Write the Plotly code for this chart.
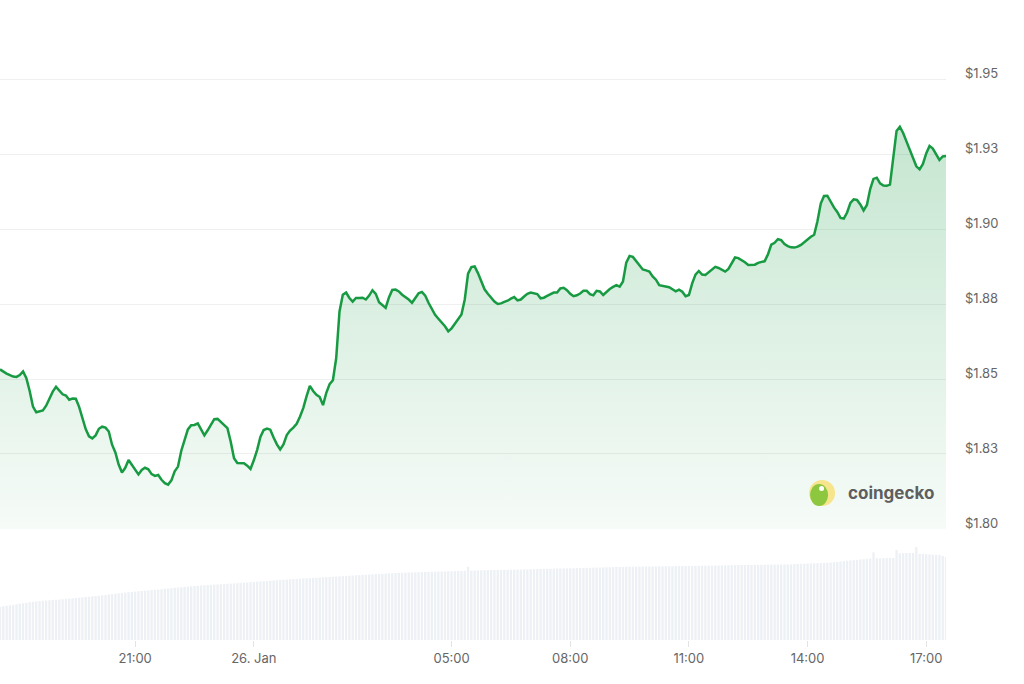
import pandas as pd
import plotly.graph_objects as go

# 5-minute samples, 25 Jan 17:35 -> 26 Jan 17:30
start_time = "2025-01-25 17:35"
step = "5min"

price = [
    1.8532, 1.8524, 1.8518, 1.8513, 1.8508, 1.8507, 1.8513, 1.8525, 1.8503, 1.8460, 1.8408, 1.8389,
    1.8391, 1.8395, 1.8411, 1.8437, 1.8458, 1.8474, 1.8463, 1.8449, 1.8445, 1.8431, 1.8435, 1.8434,
    1.8407, 1.8369, 1.8333, 1.8309, 1.8302, 1.8312, 1.8334, 1.8341, 1.8338, 1.8325, 1.8281, 1.8255,
    1.8215, 1.8188, 1.8204, 1.8230, 1.8214, 1.8197, 1.8182, 1.8197, 1.8204, 1.8199, 1.8183, 1.8177,
    1.8180, 1.8164, 1.8153, 1.8148, 1.8162, 1.8192, 1.8208, 1.8261, 1.8298, 1.8332, 1.8346, 1.8347,
    1.8352, 1.8331, 1.8312, 1.8329, 1.8348, 1.8366, 1.8367, 1.8357, 1.8346, 1.8336, 1.8291, 1.8236,
    1.8220, 1.8219, 1.8219, 1.8211, 1.8200, 1.8229, 1.8263, 1.8307, 1.8330, 1.8335, 1.8331, 1.8305,
    1.8282, 1.8265, 1.8282, 1.8313, 1.8328, 1.8338, 1.8351, 1.8374, 1.8403, 1.8442, 1.8477, 1.8460,
    1.8447, 1.8440, 1.8413, 1.8454, 1.8483, 1.8496, 1.8570, 1.8725, 1.8781, 1.8788, 1.8770, 1.8758,
    1.8770, 1.8770, 1.8771, 1.8765, 1.8778, 1.8796, 1.8784, 1.8756, 1.8746, 1.8737, 1.8772, 1.8797,
    1.8798, 1.8792, 1.8781, 1.8774, 1.8765, 1.8754, 1.8772, 1.8786, 1.8790, 1.8778, 1.8754, 1.8733,
    1.8714, 1.8701, 1.8689, 1.8676, 1.8659, 1.8669, 1.8684, 1.8700, 1.8715, 1.8765, 1.8851, 1.8873,
    1.8875, 1.8853, 1.8827, 1.8799, 1.8784, 1.8769, 1.8758, 1.8750, 1.8752, 1.8757, 1.8761, 1.8768,
    1.8773, 1.8762, 1.8765, 1.8775, 1.8784, 1.8788, 1.8785, 1.8783, 1.8769, 1.8771, 1.8777, 1.8782,
    1.8788, 1.8788, 1.8802, 1.8804, 1.8796, 1.8784, 1.8776, 1.8779, 1.8785, 1.8794, 1.8794, 1.8783,
    1.8779, 1.8794, 1.8792, 1.8780, 1.8791, 1.8800, 1.8807, 1.8813, 1.8808, 1.8825, 1.8888, 1.8910,
    1.8907, 1.8892, 1.8877, 1.8865, 1.8862, 1.8858, 1.8842, 1.8831, 1.8813, 1.8811, 1.8809, 1.8806,
    1.8799, 1.8792, 1.8798, 1.8791, 1.8776, 1.8780, 1.8819, 1.8848, 1.8860, 1.8848, 1.8847, 1.8856,
    1.8865, 1.8874, 1.8870, 1.8865, 1.8858, 1.8867, 1.8888, 1.8905, 1.8903, 1.8897, 1.8889, 1.8880,
    1.8880, 1.8881, 1.8887, 1.8890, 1.8893, 1.8916, 1.8948, 1.8954, 1.8966, 1.8963, 1.8950, 1.8943,
    1.8939, 1.8938, 1.8941, 1.8947, 1.8957, 1.8967, 1.8974, 1.8981, 1.9026, 1.9085, 1.9110, 1.9111,
    1.9089, 1.9072, 1.9057, 1.9037, 1.9035, 1.9055, 1.9087, 1.9099, 1.9097, 1.9082, 1.9062, 1.9080,
    1.9133, 1.9167, 1.9171, 1.9152, 1.9145, 1.9144, 1.9148, 1.9240, 1.9327, 1.9341, 1.9320, 1.9292,
    1.9265, 1.9239, 1.9209, 1.9199, 1.9217, 1.9252, 1.9277, 1.9268, 1.9251, 1.9230, 1.9242, 1.9243,
]

# volume, $M
volume = [
    333, 338, 343, 348, 352, 357, 362, 367, 372, 378, 382, 386,
    389, 392, 395, 397, 400, 403, 405, 408, 411, 414, 417, 420,
    423, 426, 430, 433, 437, 440, 443, 447, 451, 455, 459, 463,
    466, 470, 474, 478, 481, 484, 487, 490, 493, 496, 499, 502,
    505, 508, 512, 515, 518, 522, 525, 528, 531, 534, 537, 540,
    542, 545, 547, 549, 552, 554, 556, 558, 560, 562, 564, 566,
    568, 570, 573, 575, 578, 580, 583, 585, 588, 590, 592, 595,
    597, 600, 602, 604, 607, 609, 611, 613, 615, 617, 619, 621,
    623, 625, 627, 629, 631, 633, 635, 637, 639, 641, 643, 645,
    647, 649, 651, 653, 655, 657, 659, 661, 663, 665, 667, 668,
    670, 671, 672, 674, 675, 676, 677, 678, 679, 680, 681, 682,
    683, 684, 685, 686, 687, 688, 689, 690, 691, 692, 733, 694,
    695, 696, 697, 698, 699, 700, 700, 701, 701, 702, 702, 703,
    703, 704, 705, 706, 707, 708, 709, 710, 710, 711, 712, 712,
    713, 714, 715, 716, 716, 717, 718, 719, 720, 720, 721, 722,
    723, 724, 725, 726, 727, 728, 729, 730, 731, 731, 732, 733,
    733, 734, 734, 735, 735, 735, 736, 736, 737, 737, 737, 738,
    738, 739, 739, 740, 740, 741, 741, 742, 742, 743, 743, 744,
    744, 745, 745, 746, 747, 748, 748, 749, 750, 750, 751, 751,
    751, 752, 752, 752, 753, 753, 754, 754, 754, 755, 755, 755,
    756, 758, 760, 761, 763, 764, 766, 767, 768, 770, 771, 773,
    775, 778, 781, 785, 789, 793, 796, 799, 802, 805, 808, 812,
    815, 877, 817, 817, 818, 818, 819, 820, 900, 867, 868, 870,
    870, 872, 930, 862, 860, 858, 856, 854, 852, 850, 840, 830,
]

price_ticks = [1.800, 1.825, 1.850, 1.875, 1.900, 1.925, 1.950]
price_labels = ["$1.80", "$1.83", "$1.85", "$1.88", "$1.90", "$1.93", "$1.95"]

time_ticks = ["2025-01-25 21:00", "2025-01-26 00:00", "2025-01-26 05:00", "2025-01-26 08:00",
              "2025-01-26 11:00", "2025-01-26 14:00", "2025-01-26 17:00"]
time_labels = ["21:00", "26. Jan", "05:00", "08:00", "11:00", "14:00", "17:00"]

times = pd.date_range(start_time, periods=len(price), freq=step)

green = "#179a42"
label_font = dict(family="Inter, Roboto, sans-serif", size=13, color="#666666")

fig = go.Figure()

fig.add_trace(go.Bar(x=times, y=volume, yaxis="y2",
                     marker=dict(color="#edf0f4", line=dict(width=0)),
                     hoverinfo="skip"))

fig.add_trace(go.Scatter(x=times, y=price, mode="lines",
                         line=dict(color=green, width=2.5),
                         fill="tozeroy",
                         fillgradient=dict(type="vertical", start=1.80, stop=1.935,
                                           colorscale=[[0, "rgba(30,158,72,0.04)"],
                                                       [1, "rgba(30,158,72,0.26)"]])))

fig.update_layout(
    width=1024, height=684,
    margin=dict(l=0, r=78, t=10, b=44),
    paper_bgcolor="white", plot_bgcolor="white",
    showlegend=False, bargap=0.3,
    xaxis=dict(type="date", range=[times[0], times[-1]], anchor="y2",
               tickvals=time_ticks, ticktext=time_labels,
               ticks="outside", ticklen=6, tickcolor="#e3e3e3",
               showgrid=False, zeroline=False, showline=False,
               tickfont=label_font),
    yaxis=dict(domain=[0.1762, 1], range=[1.80, 1.973], side="right",
               tickvals=price_ticks, ticktext=price_labels,
               showgrid=True, gridcolor="#efefef", gridwidth=1,
               zeroline=False, ticks="", ticklabelstandoff=18, ticklabelshift=-6,
               tickfont=label_font),
    yaxis2=dict(domain=[0, 0.1714], range=[0, 1080],
                showgrid=False, zeroline=False, showticklabels=False),
)

# coingecko watermark
fig.add_shape(type="circle", xref="paper", yref="paper", xsizemode="pixel", ysizemode="pixel",
              xanchor=0.869, yanchor=0.2333, x0=-13, x1=13, y0=-13, y1=13,
              fillcolor="#f6e58c", line=dict(width=0), layer="above")
fig.add_shape(type="circle", xref="paper", yref="paper", xsizemode="pixel", ysizemode="pixel",
              xanchor=0.869, yanchor=0.2333, x0=-12, x1=6, y0=-13, y1=9,
              fillcolor="#8dc63f", line=dict(width=0), layer="above")
fig.add_shape(type="circle", xref="paper", yref="paper", xsizemode="pixel", ysizemode="pixel",
              xanchor=0.869, yanchor=0.2333, x0=-3, x1=2, y0=2, y1=7,
              fillcolor="white", line=dict(width=0), layer="above")
fig.add_annotation(x=0.8943, y=0.2333, xref="paper", yref="paper", xanchor="left", yanchor="middle",
                   text="<b>coingecko</b>", showarrow=False,
                   font=dict(family="Inter, Roboto, sans-serif", size=17, color="#5e5e5e"))

# drop the page's default body margin so the chart sits flush with the window
fig.write_html("out.html", config={"displayModeBar": False},
               post_script="document.body.style.margin = '0px';")
